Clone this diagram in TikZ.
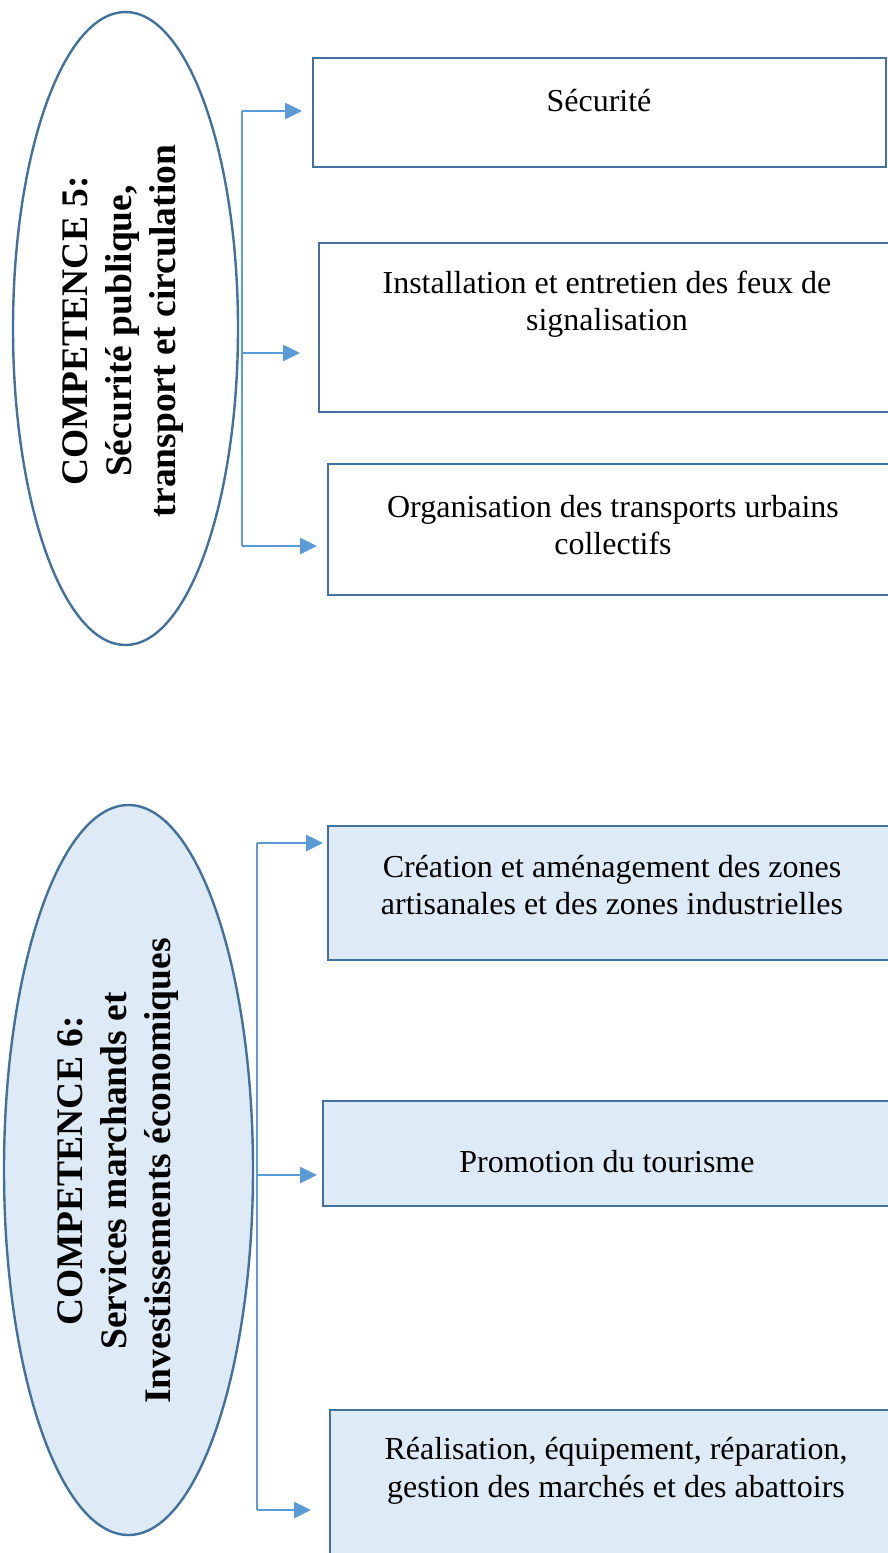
\documentclass[tikz,border=0pt]{standalone}
\usepackage{fontspec}
\setmainfont{Liberation Serif}
\usetikzlibrary{shapes.geometric,arrows.meta}
\definecolor{edge}{HTML}{41719C}
\definecolor{lite}{HTML}{DEEBF7}
\definecolor{arrc}{HTML}{5B9BD5}
\begin{document}
\begin{tikzpicture}[x=1pt,y=-1pt,
  box/.style={draw=edge,line width=2.6pt,rectangle,inner sep=0pt,outer sep=0pt,anchor=north west},
  ell/.style={draw=edge,line width=2.4pt,ellipse,inner sep=0pt,outer sep=0pt},
  boxtxt/.style={align=center,inner sep=0pt,font=\fontsize{32}{37.5}\selectfont},
  elltxt/.style={align=center,inner sep=0pt,rotate=90,font=\fontsize{37.5}{44}\selectfont\bfseries},
  trunk/.style={draw=arrc,line width=1.4pt},
  arr/.style={draw=arrc,line width=2.6pt,-{Triangle[length=17pt,width=16pt]}}]
\useasboundingbox (0,0) rectangle (888,1553);
% ellipses
\node[ell,fill=white,minimum width=225pt,minimum height=633pt] (e1) at (125.5,328.5) {};
\node[elltxt] (t1) at (123,331) {COMPETENCE 5:\\Sécurité publique,\\transport et circulation};
\node[ell,fill=lite,minimum width=249pt,minimum height=730pt] (e2) at (128.5,1170) {};
\node[elltxt] (t2) at (118,1171) {COMPETENCE 6:\\Services marchands et\\Investissements économiques};
% boxes group 1
\node[box,fill=white,minimum width=573pt,minimum height=109pt] (b1) at (313,58) {};
\node[boxtxt] (bt1) at (599,101) {Sécurité};
\node[box,fill=white,minimum width=575pt,minimum height=169pt] (b2) at (319,243) {};
\node[boxtxt] (bt2) at (607,304) {Installation et entretien des feux de\\signalisation};
\node[box,fill=white,minimum width=566pt,minimum height=131pt] (b3) at (328,464) {};
\node[boxtxt] (bt3) at (613,525) {Organisation des transports urbains\\collectifs};
% boxes group 2
\node[box,fill=lite,minimum width=566pt,minimum height=134pt] (b4) at (328,826) {};
\node[boxtxt] (bt4) at (612,885) {Création et aménagement des zones\\artisanales et des zones industrielles};
\node[box,fill=lite,minimum width=571pt,minimum height=105pt] (b5) at (323,1101) {};
\node[boxtxt] (bt5) at (607,1162) {Promotion du tourisme};
\node[box,fill=lite,minimum width=564pt,minimum height=160pt] (b6) at (330,1410) {};
\node[boxtxt] (bt6) at (616,1471) {Réalisation, équipement, réparation,\\gestion des marchés et des abattoirs};
% connectors group 1
\coordinate (j1) at (242,111);
\coordinate (j2) at (242,353);
\coordinate (j3) at (242,546);
\draw[trunk] (j1) -- (j3);
\draw[arr,shorten >=11pt] (j1) -- (j1 -| b1.west);
\draw[arr,shorten >=19pt] (j2) -- (j2 -| b2.west);
\draw[arr,shorten >=11pt] (j3) -- (j3 -| b3.west);
% connectors group 2
\coordinate (k1) at (257,843);
\coordinate (k2) at (257,1175);
\coordinate (k3) at (257,1510);
\draw[trunk] (k1) -- (k3);
\draw[arr,shorten >=5pt] (k1) -- (k1 -| b4.west);
\draw[arr,shorten >=6pt] (k2) -- (k2 -| b5.west);
\draw[arr,shorten >=19pt] (k3) -- (k3 -| b6.west);
\end{tikzpicture}
\end{document}
